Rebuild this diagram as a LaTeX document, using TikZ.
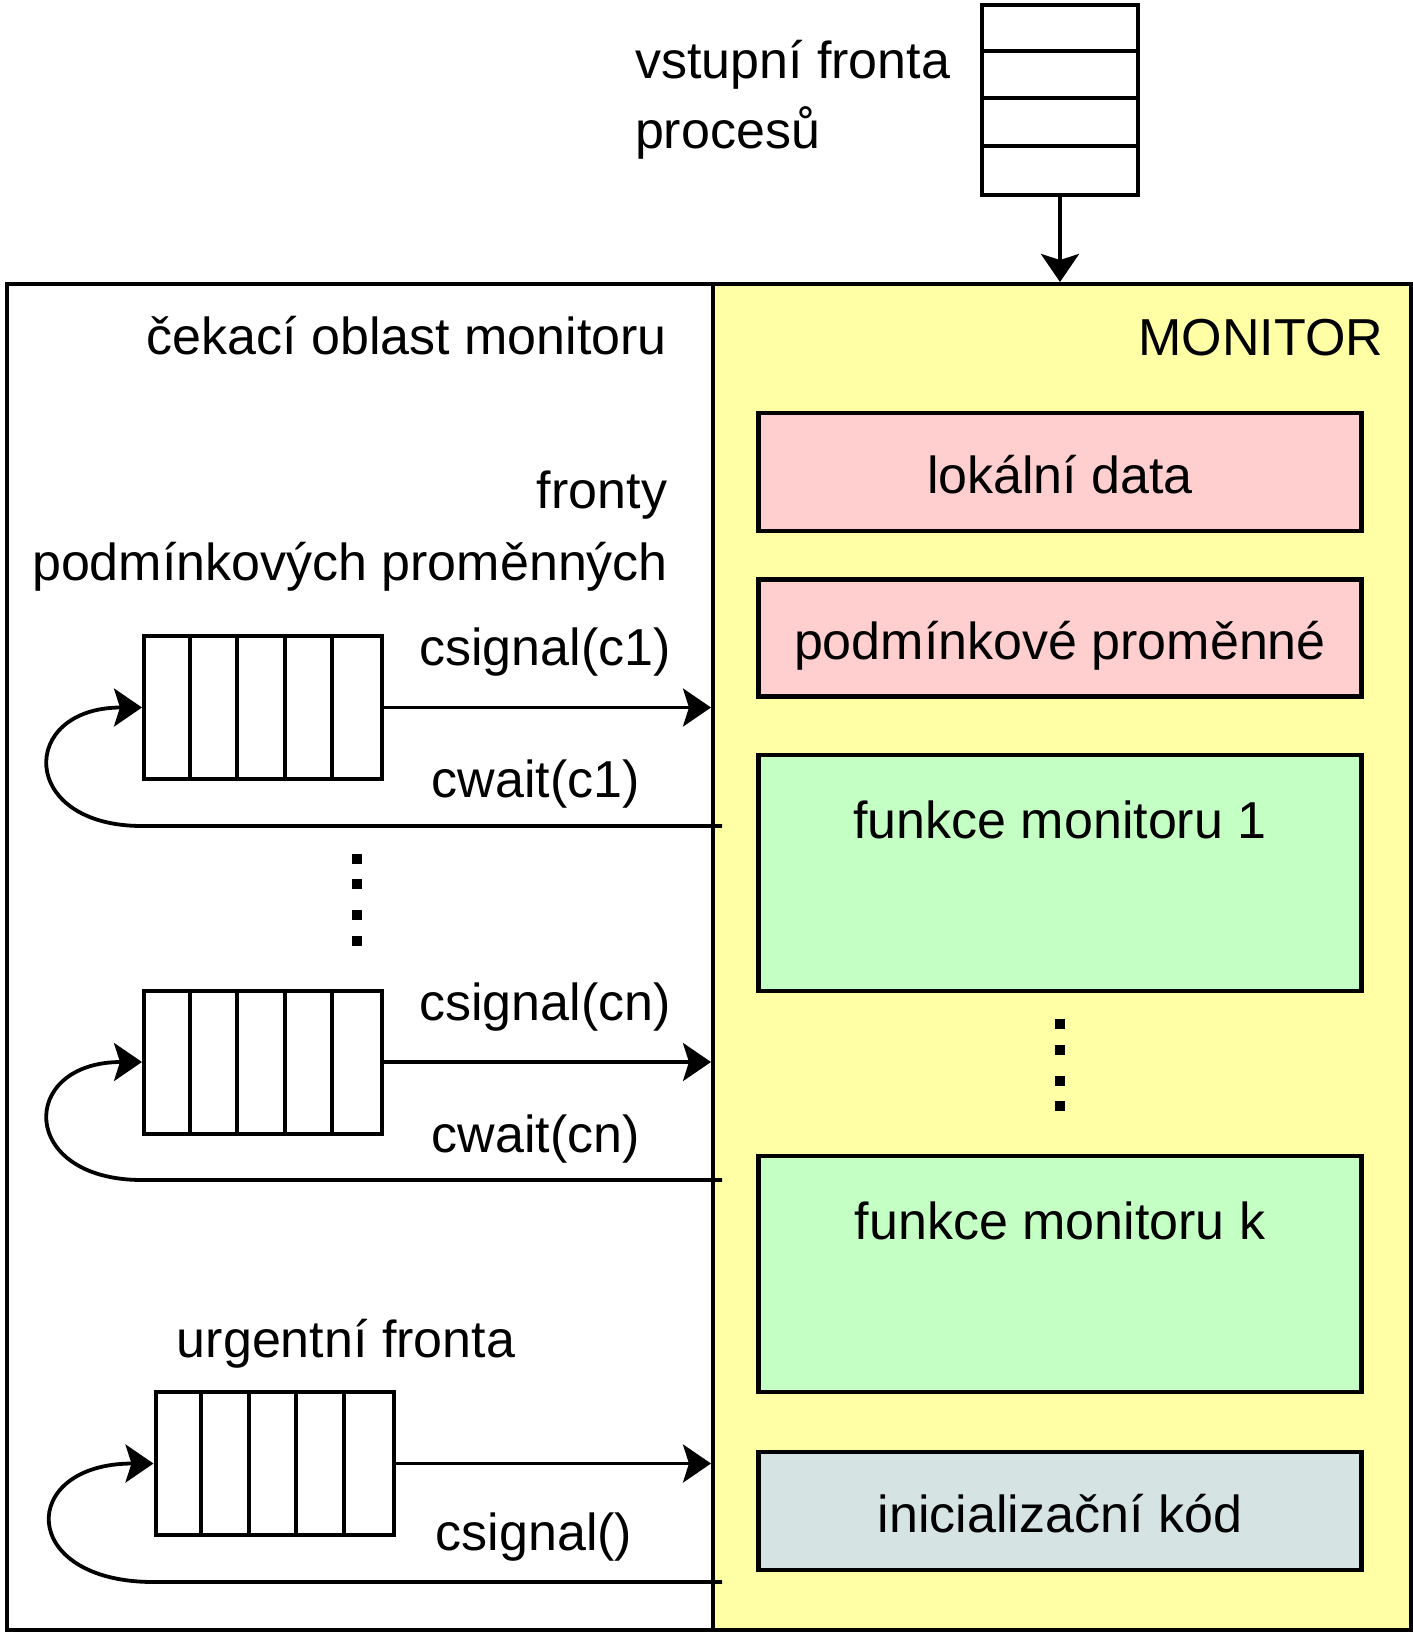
\documentclass[tikz,border=0pt]{standalone}
\usepackage{fontspec}
\setmainfont{Liberation Sans}
\usetikzlibrary{arrows.meta, positioning}

\definecolor{monyellow}{RGB}{255,255,166}
\definecolor{datapink}{RGB}{255,206,206}
\definecolor{funcgreen}{RGB}{196,255,196}
\definecolor{initgray}{RGB}{214,227,227}

\newcommand{\txtfont}{\fontsize{26}{30}\selectfont}

\begin{document}
\begin{tikzpicture}[
    x=0.5pt, y=-0.5pt,
    line width=2pt,
    every node/.style={font=\txtfont, inner sep=0pt},
    arr/.style={-{Stealth[length=14pt, width=19pt, inset=3pt]}, line width=1.9pt},
    part/.style={draw, line width=2.4pt, minimum width=301.5pt, text height=21pt, text depth=0pt},
    fifoh/.style={draw, line width=2pt, fill=white, minimum width=119pt, minimum height=71.5pt},
    fifov/.style={draw, line width=2pt, fill=white, minimum width=78pt, minimum height=95pt}
]

\useasboundingbox (0,0) rectangle (1413,1633);

% Areas
\node[draw, anchor=north west, minimum width=353pt, minimum height=673pt] (wait) at (5,282) {};
\node[draw, fill=monyellow, anchor=north west, minimum width=349pt, minimum height=673pt] (monitor) at (711,282) {};

% Entry queue
\node[fifov] (vstup) at (1060,100) {};
\foreach \i in {1,2,3}
    \draw ([yshift=-\i*23.75pt]vstup.north west) -- ([yshift=-\i*23.75pt]vstup.north east);
\node[anchor=base west] (vstupt) at (633,78) {vstupní fronta};
\node[anchor=base west] (proct) at (633,148) {procesů};
\draw[arr] (vstup.south) -- (vstup.south |- monitor.north);

% Headings
\node[anchor=base east] (mont) at (1385,355) {MONITOR};
\node[anchor=base east] (waitt) at (669,354) {čekací oblast monitoru};

% Monitor parts
\node[part, fill=datapink, minimum height=59pt] (data) at (1060,472) {lokální data};
\node[part, fill=datapink, minimum height=58.5pt] (cvars) at (1060,638) {podmínkové proměnné};
\node[part, fill=funcgreen, minimum height=118pt] (f1) at (1060,873) {};
\node[anchor=base] (f1t) at ([yshift=-43pt]f1.north) {funkce monitoru 1};
\node[part, fill=funcgreen, minimum height=118pt] (fk) at (1060,1274) {};
\node[anchor=base] (fkt) at ([yshift=-43pt]fk.north) {funkce monitoru k};
\node[part, fill=initgray, minimum height=59pt] (init) at (1060,1511) {inicializační kód};

\foreach \y in {1024,1050,1081,1106}
    \fill (1060,\y) +(-5,-5) rectangle +(5,5);

% Condition queues
\node[anchor=base east] (frt) at (669,508) {fronty};
\node[anchor=base east] (pmt) at (670,580) {podmínkových proměnných};

\node[fifoh] (q1) at (263,707.5) {};
\node[fifoh] (qn) at (263,1062) {};
\node[fifoh] (qu) at (274.5,1463.5) {};
\foreach \q in {q1,qn,qu}
    \foreach \i in {1,2,3,4}
        \draw ([xshift=\i*23.8pt]\q.north west) -- ([xshift=\i*23.8pt]\q.south west);

\foreach \y in {859,884,915,941}
    \fill (357,\y) +(-5,-5) rectangle +(5,5);

\coordinate (w1) at (722,826);
\coordinate (wn) at (722,1180);
\coordinate (wu) at (722,1582);

\draw[arr] (q1.east) -- (q1.east -| monitor.west);
\draw[arr] (w1) -- (w1 -| q1.west) to[out=180, in=180, distance=62pt] (q1.west);
\draw[arr] (qn.east) -- (qn.east -| monitor.west);
\draw[arr] (wn) -- (wn -| qn.west) to[out=180, in=180, distance=62pt] (qn.west);
\draw[arr] (qu.east) -- (qu.east -| monitor.west);
\draw[arr] (wu) -- (wu -| qu.west) to[out=180, in=180, distance=68pt] (qu.west);

\node[anchor=base] (s1) at (545,665) {csignal(c1)};
\node[anchor=base] (c1) at (536,797) {cwait(c1)};
\node[anchor=base] (sn) at (545,1020) {csignal(cn)};
\node[anchor=base] (cn) at (536,1152) {cwait(cn)};
\node[anchor=base] (ut) at (346,1357) {urgentní fronta};
\node[anchor=base] (su) at (534,1550) {csignal()};

\end{tikzpicture}
\end{document}
